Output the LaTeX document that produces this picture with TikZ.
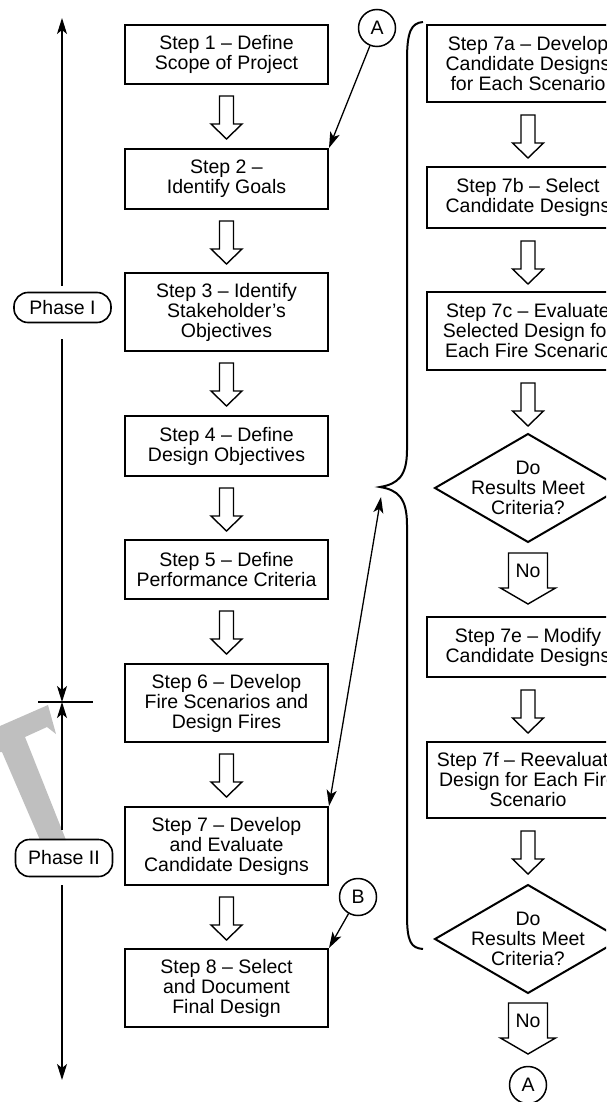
\documentclass[tikz,border=0pt]{standalone}
\usepackage{fontspec}
\setmainfont{Liberation Sans}
\usetikzlibrary{arrows.meta,calc}
\begin{document}
\begin{tikzpicture}[x=1pt,y=-1pt,
  txt/.style={font=\fontsize{19.5}{20}\selectfont, align=center, inner sep=0pt},
  box/.style={txt, draw, line width=2pt, minimum width=203pt, fill=white},
  pill/.style={txt, draw, line width=1.6pt, rounded corners=14pt, minimum width=97pt},
  circ/.style={txt, draw, circle, line width=1.5pt, minimum size=37pt},
  arr/.style={line width=1.3pt, -{Stealth[length=16pt,width=10pt,inset=4pt]}},
  darr/.style={line width=1.3pt, {Stealth[length=16pt,width=10pt,inset=4pt]}-{Stealth[length=16pt,width=10pt,inset=4pt]}},
  shape line/.style={line width=2pt},
  pics/barrow/.style={code={
    \draw[line width=1.4pt, fill=white] (-7,0) -- (-7,28) -- (-15.5,28) -- (0,43) -- (15.5,28) -- (7,28) -- (7,0) -- cycle;}},
  pics/noarrow/.style={code={
    \draw[line width=1.4pt, fill=white] (-19.5,0) -- (-19.5,35) -- (-27.5,35) -- (0,51) -- (27.5,35) -- (19.5,35) -- (19.5,0) -- cycle;
    \node[txt] at (0,18) {No};}}
]
\useasboundingbox (0,0) rectangle (606,1102);
\clip (0,0) rectangle (606,1102);

% gray watermark stroke
\fill[gray!50] (0,726) -- (48,705) -- (56,734) -- (47,727) -- (25,737) -- (66,840) -- (40,840) -- (2,752) -- (0,752) -- cycle;

% left column
\node[box, minimum height=59pt] (s1) at (226.5,54.5) {Step 1 -- Define\\Scope of Project};
\node[box, minimum height=60pt] (s2) at (226.5,179) {Step 2 --\\Identify Goals};
\node[box, minimum height=78pt] (s3) at (226.5,312) {Step 3 -- Identify\\Stakeholder’s\\Objectives};
\node[box, minimum height=60pt] (s4) at (226.5,446) {Step 4 -- Define\\Design Objectives};
\node[box, minimum height=59pt] (s5) at (226.5,569.5) {Step 5 -- Define\\Performance Criteria};
\node[box, minimum height=78pt] (s6) at (226.5,703) {Step 6 -- Develop\\Fire Scenarios and\\Design Fires};
\node[box, minimum height=78pt] (s7) at (226.5,846) {Step 7 -- Develop\\and Evaluate\\Candidate Designs};
\node[box, minimum height=78pt] (s8) at (226.5,988) {Step 8 -- Select\\and Document\\Final Design};

\foreach \n in {s1,s2,s3,s4,s5,s6,s7}{
  \pic at ($(\n.south)+(0,11)$) {barrow};
}

% right column
\node[box, minimum height=77pt] (r7a) at (528,63.5) {Step 7a -- Develop\\Candidate Designs\\for Each Scenario};
\node[box, minimum height=61pt] (r7b) at (528,197.5) {Step 7b -- Select\\Candidate Designs};
\node[box, minimum height=78pt] (r7c) at (528,331) {Step 7c -- Evaluate\\Selected Design for\\Each Fire Scenario};
\node[txt] (d1) at (528,488) {Do\\Results Meet\\Criteria?};
\draw[shape line] ($(d1.center)+(0,-54)$) -- ($(d1.center)+(93,0)$) -- ($(d1.center)+(0,54)$) -- ($(d1.center)+(-93,0)$) -- cycle;
\node[box, minimum height=60pt] (r7e) at (528,647) {Step 7e -- Modify\\Candidate Designs};
\node[box, minimum height=76pt] (r7f) at (528,780) {Step 7f -- Reevaluate\\Design for Each Fire\\Scenario};
\node[txt] (d2) at (528,939) {Do\\Results Meet\\Criteria?};
\draw[shape line] ($(d2.center)+(0,-54)$) -- ($(d2.center)+(93,0)$) -- ($(d2.center)+(0,54)$) -- ($(d2.center)+(-93,0)$) -- cycle;
\node[circ] (aB) at (528,1085) {A};

\foreach \n in {r7a,r7b,r7c,r7e,r7f}{
  \pic at ($(\n.south)+(0,12)$) {barrow};
}
\pic at ($(d1.center)+(0,65)$) {noarrow};
\pic at ($(d2.center)+(0,64)$) {noarrow};

% brace
\coordinate (tip) at (380,487);
\draw[line width=2pt] (423,22) .. controls (411,23) and (407,32) .. (407,60) -- (407,450)
  .. controls (407,476) and (398,484) .. (tip)
  .. controls (398,490) and (407,498) .. (407,525) -- (407,915)
  .. controls (407,942) and (411,948) .. (423,949);
\coordinate (tipend) at (381,497);
\draw[darr] (s7.north east) -- (tipend);

% connectors A, B
\node[circ] (aT) at (377,28) {A};
\node[circ] (bC) at (358,897) {B};
\draw[arr] (aT) -- (s2.north east);
\draw[arr] (bC) -- (s8.north east);

% phase axis
\node[pill, minimum height=30pt] (p1) at (62.5,307.5) {Phase I};
\node[pill, minimum height=37pt] (p2) at (64,858) {Phase II};
\coordinate (axtop) at (62,18);
\coordinate (sep) at (62,702);
\coordinate (axbot) at (62,1080);
\draw[line width=1.3pt] (38,702) -- (93,702);
\draw[arr] ([yshift=6pt]p1.north -| axtop) -- (axtop);
\draw[arr] ([yshift=-16pt]p1.south -| sep) -- (sep);
\draw[arr] ([yshift=9pt]p2.north -| sep) -- (sep);
\draw[arr] ([yshift=-8pt]p2.south -| axbot) -- (axbot);
\end{tikzpicture}
\end{document}
